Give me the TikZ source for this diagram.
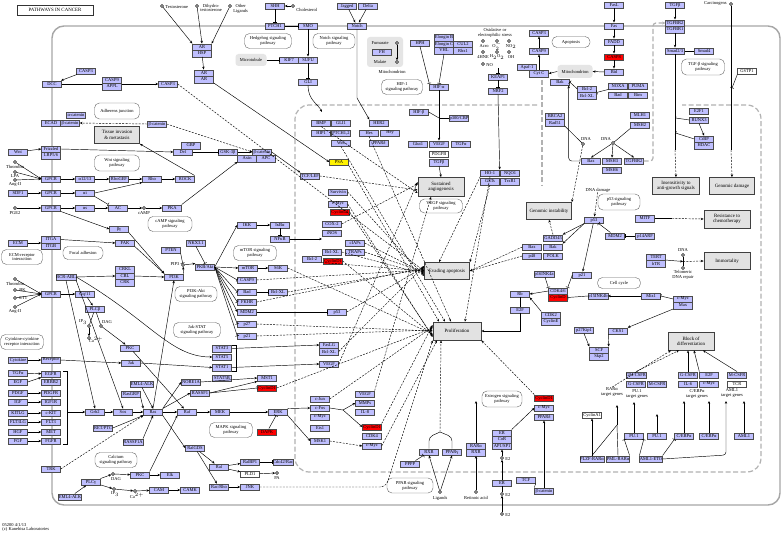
\documentclass[tikz,border=0pt]{standalone}
\usepackage{fontspec}
\setmainfont{Liberation Serif}
\usetikzlibrary{arrows.meta}
\definecolor{kblue}{RGB}{191,191,255}
\definecolor{kred}{RGB}{255,0,0}
\definecolor{kout}{RGB}{226,226,226}
\newcommand\kf{\fontsize{4.5}{4.9}\selectfont}
\newcommand\kfo{\fontsize{4.9}{5.3}\selectfont}
\tikzset{
  gn/.style={draw=black!70, fill=kblue, minimum width=19pt, minimum height=6.5pt, inner sep=0.2pt, line width=0.4pt, font=\kf},
  gr/.style={gn, fill=kred},
  gw/.style={gn, fill=white},
  gy/.style={gn, fill=yellow},
  ob/.style={draw=black!75, fill=kout, line width=0.8pt, minimum width=45pt, minimum height=17pt, inner sep=0.5pt, align=center, font=\kfo},
  pw/.style={draw=black!60, fill=white, rounded corners=5pt, minimum width=42pt, minimum height=15pt, inner sep=0.5pt, align=center, font=\kf, line width=0.4pt},
  gbx/.style={fill=black!10, rounded corners=3pt, inner sep=0pt},
  lbl/.style={inner sep=0.2pt, align=center, font=\kf},
  cir/.style={circle, draw=black, fill=white, inner sep=0pt, minimum size=3pt, line width=0.45pt},
  ar/.style={-{Stealth[length=2.8pt,width=2.4pt]}, line width=0.45pt},
  inh/.style={-{Bar[width=4pt]}, line width=0.45pt},
  da/.style={ar, dash pattern=on 2pt off 1.3pt},
  ln/.style={line width=0.45pt},
  gd/.style={draw=black!30, line width=1.2pt, dash pattern=on 5pt off 2.5pt},
}
\begin{document}
\begin{tikzpicture}[x=1pt,y=-1pt]
\useasboundingbox (0,0) rectangle (784,534);
\fill[white] (0,0) rectangle (784,534);
% frames
\draw[black!35, line width=1.4pt, rounded corners=12pt] (52,26) rectangle (780,505);
\draw[gd, rounded corners=14pt] (537,105) -- (295,105) -- (295,472) -- (761,472) -- (761,105) -- (682,105);
\coordinate (gx1) at (542,80); \coordinate (gx2) at (542,186);
\draw[gd] (gx1) -- (gx2);
\node[draw=black!80, minimum width=76pt, minimum height=9.5pt, inner sep=0.5pt, font=\kfo] (title) at (55,10) {PATHWAYS IN CANCER};
\node[lbl, anchor=west, align=left] (copy) at (2,527.5) {05200 4/1/13\\(c) Kanehisa Laboratories};
% gray regions
\node[gbx, minimum width=31pt, minimum height=12pt, font=\kf] (microt) at (251,60) {Microtubule};
\node[gbx, minimum width=36pt, minimum height=30pt] (mito1) at (385,52) {};
\node[lbl] (mitotxt1) at (392,72) {Mitochondrion};
\node[gbx, minimum width=35pt, minimum height=13pt, font=\kf] (mito2) at (575,71.5) {Mitochondrion};
% ---------- left top
\node[gn] (casp3a) at (86,71) {CASP3};
\node[gn] (dcc) at (52,84) {DCC};
\node[gn] (casp9a) at (112,80) {CASP9};
\node[gn] (appl) at (112,86.5) {APPL};
\node[gn] (casp3b) at (168,84) {CASP3};
\node[pw, minimum width=45pt, minimum height=16pt] (adh) at (117,111) {Adherens junction};
\node[gn] (acat) at (76,115) {α-catenin};
\node[gn] (ecad) at (51,123) {ECAD};
\node[gn] (bcat1) at (70,123) {β-catenin};
\node[gn] (bcat2) at (157,124) {β-catenin};
\node[ob] (tissue) at (117,135) {Tissue invasion\\\& metastasis};
\node[gn] (wnt1) at (18,152) {Wnt};
\node[gn] (fzd) at (51,149) {Frizzled};
\node[gn] (lrp) at (51,155.5) {LRP5/6};
\node[gn] (dvl) at (183,152) {Dvl};
\node[gn] (gbp) at (191,145.5) {GBP};
\node[pw, minimum width=45pt, minimum height=16pt] (wntpw) at (117,163) {Wnt signaling\\pathway};
\node[cir] (thr1) at (15,162) {}; \node[lbl] (thr1l) at (15,166.5) {Thrombin};
\node[cir] (lpa) at (15,172) {}; \node[lbl] (lpal) at (15,176) {LPA};
\node[cir] (ang1) at (15,180) {}; \node[lbl] (ang1l) at (15,184.5) {Ang-II};
\node[gn] (gpcr1) at (51,179) {GPCR};
\node[gn] (a1213) at (85,179) {α12/13};
\node[gn] (rhogef) at (119,179) {RhoGEF};
\node[gn] (rho) at (152,179) {Rho};
\node[gn] (rock) at (185,179) {ROCK};
\node[gn] (sdf1) at (18,193) {SDF1};
\node[gn] (gpcr2) at (51,193) {GPCR};
\node[gn] (gai) at (85,193) {αi};
\node[cir] (pge2) at (15,208) {}; \node[lbl] (pge2l) at (15,213) {PGE2};
\node[gn] (gpcr3) at (51,208) {GPCR};
\node[gn] (gas) at (85,208) {αs};
\node[gn] (ac) at (118,208) {AC};
\node[cir] (camp) at (144,208) {}; \node[lbl] (campl) at (144,213) {cAMP};
\node[gn] (pka) at (172,208) {PKA};
\node[pw, minimum width=44pt] (camppw) at (170,224) {cAMP signaling\\pathway};
\node[gn] (bg) at (119,229) {βγ};
\node[gn] (ecm) at (18,243) {ECM};
\node[gn] (itga) at (51,239.5) {ITGA};
\node[gn] (itgb) at (51,246) {ITGB};
\node[gn] (fak) at (125,243) {FAK};
\node[pw, minimum width=41pt] (ecmpw) at (22,257) {ECM-receptor\\interaction};
\node[pw, minimum width=40pt, minimum height=13pt] (focal) at (83,253) {Focal adhesion};
\node[gn] (pten) at (171,250) {PTEN};
\node[gn] (nkx) at (196,243) {NKX3.1};
\node[cir] (pip3) at (183,265) {}; \node[lbl] (pip3l) at (175,264) {PIP3};
\node[gn] (crkl) at (125,269.5) {CRKL};
\node[gn] (cbl) at (125,276) {CBL};
\node[gn] (crk) at (125,282.5) {CRK};
\node[gn] (bcrabl) at (66,277) {BCR-ABL};
\node[gn] (pi3k) at (174,277) {PI3K};
\node[pw] (pi3kpw) at (196,294) {PI3K-Akt\\signaling pathway};
\node[cir] (thr2) at (15,279) {}; \node[lbl] (thr2l) at (15,284) {Thrombin};
\node[cir] (bk) at (15,290) {}; \node[lbl, anchor=west] (bkl) at (19,290) {BK};
\node[cir] (et1) at (15,298) {}; \node[lbl, anchor=west] (et1l) at (19,298) {ET1};
\node[cir] (ang2) at (15,307) {}; \node[lbl] (ang2l) at (15,312) {Ang-II};
\node[gn] (gpcr4) at (51,294) {GPCR};
\node[gn] (gq) at (85,294) {Gq/11};
\node[gn] (plcb) at (95,309) {PLCβ};
\node[cir] (ip3a) at (89,326) {}; \node[lbl] (ip3al) at (83,322) {IP$_3$};
\node[cir] (daga) at (101,326) {}; \node[lbl] (dagal) at (107,322) {DAG};
\node[cir] (ca1) at (89,338) {}; \node[lbl] (ca1l) at (96,340) {Ca$^{2+}$};
\node[gn] (pkc1) at (130,348) {PKC};
\node[pw, minimum width=43pt] (cytpw) at (22,342) {Cytokine-cytokine\\receptor interaction};
\node[pw, minimum width=47pt] (jakpw) at (197,330) {Jak-STAT\\signaling pathway};
% ---------- left bottom
\node[gn] (cytok) at (18,360) {Cytokine};
\node[gn] (recep) at (51,360) {Receptor};
\node[gn] (jak) at (131,363) {Jak};
\node[gn] (tgfa1) at (18,373) {TGFα};
\node[gn] (egf) at (18,382) {EGF};
\node[gn] (egfr) at (51,374) {EGFR};
\node[gn] (erbb2) at (51,382) {ERBB2};
\node[gn] (pdgf) at (18,393) {PDGF}; \node[gn] (pdgfr) at (51,393) {PDGFR};
\node[gn] (igf) at (18,402) {IGF}; \node[gn] (igf1r) at (51,402) {IGF1R};
\node[gn] (kitlg) at (18,413) {KITLG}; \node[gn] (ckit) at (51,413) {c-KIT};
\node[gn] (flt3lg) at (18,422) {FLT3LG}; \node[gn] (flt3) at (51,422) {FLT3};
\node[gn] (hgf) at (18,432) {HGF}; \node[gn] (met) at (51,432) {MET};
\node[gn] (fgf) at (18,441) {FGF}; \node[gn] (fgfr) at (51,441) {FGFR};
\node[gn] (eml4a) at (142,384) {EML4-ALK};
\node[gn] (rasgrp) at (131,394) {RasGRP};
\node[gn] (grb2) at (95,412) {Grb2};
\node[gn] (sos) at (123,412) {Sos};
\node[gn] (ras) at (153,412) {Ras};
\node[gn] (raf) at (187,412) {Raf};
\node[gn] (retptc) at (103,428) {RET/PTC};
\node[gn] (rassf1a) at (133,442) {RASSF1A};
\node[pw] (calpw) at (116,460) {Calcium\\signaling pathway};
\node[gn] (trk) at (51,469) {TRK};
\node[gn] (plcg) at (91,482) {PLCγ};
\node[cir] (dagb) at (113,474) {}; \node[lbl] (dagbl) at (116,479) {DAG};
\node[cir] (ip3b) at (114,489) {}; \node[lbl] (ip3bl) at (115,494) {IP$_3$};
\node[cir] (ca2) at (135,491) {}; \node[lbl] (ca2l) at (137,496) {Ca$^{2+}$};
\node[gn] (pkc2) at (140,475) {PKC};
\node[gn] (elk) at (170,475) {Elk};
\node[gn] (cam) at (159,490) {CAM};
\node[gn] (camk) at (190,490) {CAMK};
\node[gn] (eml4b) at (70,497) {EML4-ALK};
% ---------- centre left
\node[gn] (nore) at (191,382) {NORE1A};
\node[gn] (rassf) at (200,393) {RASSF1};
\node[gn] (ralgds) at (195,448) {RalGDS};
\node[gn] (stat3) at (222,348.5) {STAT3};
\node[gn] (stat5) at (222,357) {STAT5};
\node[gn] (stat1) at (222,367.5) {STAT1};
\node[gn] (stat5b) at (222,378) {STAT5B};
\node[gn] (mst1) at (267,378) {MST1};
\node[gr] (ccnd1c) at (267,388) {CyclinD1};
\node[gn] (mek) at (220,412) {MEK};
\node[gn] (erk) at (278,412) {ERK};
\node[gr] (dapk) at (267,432) {DAPK};
\node[pw, minimum width=43pt] (mapkpw) at (231,430) {MAPK signaling\\pathway};
\node[gn] (ral) at (219,467) {Ral};
\node[gn] (ralbp1) at (250,462) {RalBP1};
\node[gn] (cdc42) at (283,462) {Cdc42/Rac};
\node[gw] (pld1) at (250,474) {PLD1};
\node[cir] (pa) at (277,473) {}; \node[lbl] (pal) at (277,478) {PA};
\node[gn] (racrho) at (219,487) {Rac/Rho};
\node[gn] (jnk) at (250,487) {JNK};
% ---------- centre
\node[gn] (gsk) at (228,152) {GSK-3β};
\node[gn] (bcat3) at (262,152) {β-catenin};
\node[gn] (axin) at (247,158.5) {Axin};
\node[gn] (apc) at (266,158.5) {APC};
\node[gn] (tcflef) at (310,176) {TCF/LEF};
\node[gy] (psa) at (339,162) {PSA};
\node[gn] (survivin) at (338,192) {Survivin};
\node[gn] (cmyc1) at (338,204) {c-Myc};
\node[gr] (ccnd1a) at (340,212) {CyclinD1};
\node[gn] (ikk) at (247,225) {IKK};
\node[gn] (ikba) at (280,225) {IκBα};
\node[gn] (nfkb) at (280,239) {NFκB};
\node[gn] (cox2) at (332,224) {COX-2};
\node[gn] (inos) at (332,233) {iNOS};
\node[pw, minimum width=43pt] (mtorpw) at (255,253) {mTOR signaling\\pathway};
\node[gn] (ciaps) at (355,243) {cIAPs};
\node[gn] (bclxl1) at (332,252) {Bcl-XL};
\node[gn] (traps) at (355,252) {TRAPs};
\node[gn] (bcl2a) at (312,259) {Bcl-2};
\node[gr] (ccnd1b) at (333,261) {CyclinD1};
\node[gn] (akt) at (205,267) {PKB/Akt};
\node[gn] (mtor) at (248,268) {mTOR};
\node[gn] (s6k) at (278,268) {S6K};
\node[gn] (casp9b) at (247,280) {CASP9};
\node[gn] (bad1) at (247,292) {Bad};
\node[gn] (bclxl2) at (278,292) {Bcl-XL};
\node[gn] (fkhr) at (247,302) {FKHR};
\node[gn] (mdm2a) at (247,312) {MDM2};
\node[gn] (p53a) at (337,312) {p53};
\node[gn] (p27a) at (247,324) {p27};
\node[gn] (p21a) at (247,336) {p21};
\node[gn] (faslg) at (329,345) {FasLG};
\node[gn] (bclxl3) at (329,351.5) {Bcl-XL};
\node[gn] (vegf1) at (329,364) {VEGF};
\node[gn] (cjun) at (320,399) {c-Jun};
\node[gn] (cfos) at (320,408) {c-Fos};
\node[gn] (cmyc2) at (320,417) {c-Myc};
\node[gn] (ets1) at (320,428) {Ets1};
\node[gn] (msk1) at (320,441) {MSK1};
\node[gn] (vegf2) at (365,394) {VEGF};
\node[gn] (mmps) at (365,403) {MMPs};
\node[gn] (il8) at (365,412) {IL-8};
\node[gr] (ccnd1d) at (372,427) {CyclinD1};
\node[gn] (cdk4) at (372,436) {CDK4};
\node[gn] (cmyc3) at (372,446) {c-Myc};
% ---------- top centre
\node[cir] (testo) at (162,6) {}; \node[lbl, anchor=west] (testol) at (165,7) {Testosterone};
\node[cir] (dht) at (197,6) {}; \node[lbl, anchor=west] (dhtl) at (200,8) {Dihydro-\\testosterone};
\node[cir] (othl) at (230,6) {}; \node[lbl, anchor=west] (othll) at (233,8.5) {Other\\Ligands};
\node[gn] (ar1) at (202,47) {AR};
\node[gn] (hsp) at (202,53.5) {HSP};
\node[gn] (ar2) at (204,73) {AR};
\node[gn] (ar3) at (204,79.5) {AR};
\node[gn] (shh) at (275,6) {SHH};
\node[cir] (chol) at (293,6) {}; \node[lbl, anchor=west] (choll) at (296,10) {Cholesterol};
\node[gn] (ptch1) at (275,26) {PTCH1};
\node[gn] (smo) at (308,26) {SMO};
\node[gn] (jag) at (347,6) {Jagged};
\node[gn] (delta) at (368,6) {Delta};
\node[gn] (notch) at (357,26) {Notch};
\node[pw, minimum width=47pt] (hhpw) at (268,41) {Hedgehog signaling\\pathway};
\node[pw] (notchpw) at (334,41) {Notch signaling\\pathway};
\node[gn] (kif7) at (289,60) {KIF7};
\node[gn] (sufu) at (308,60) {SUFU};
\node[gn] (gli) at (308,82) {GLI};
\node[gn] (bmp) at (321,123) {BMP};
\node[gn] (gli1) at (341,123) {GLI1};
\node[gn] (hip1) at (321,133) {HIP1};
\node[gn] (ptch12) at (341,133) {PTCH1,2};
\node[gn] (wnt2) at (341,143) {Wnt};
\node[gn] (her2) at (379,123) {HER2};
\node[gn] (hes) at (369,133) {Hes};
\node[gn] (hey) at (390,133) {Hey};
\node[gn] (ppard1) at (379,143) {PPARδ};
\node[lbl] (fum) at (380,43) {Fumarate};
\node[gn] (fh) at (382,52) {FH};
\node[lbl] (mal) at (380,62) {Malate};
\node[cir] (fumc) at (397,43) {};
\node[cir] (malc) at (397,62) {};
\node[pw, minimum width=41pt] (hif1pw) at (402,87) {HIF-1\\signaling pathway};
\node[gn] (hph) at (420,43) {HPH};
\node[gn] (elob) at (444,37.5) {Elongin B};
\node[gn] (eloc) at (444,44) {Elongin C};
\node[gn] (vhl) at (444,50.5) {VHL};
\node[gn] (cul2) at (463,44) {CUL2};
\node[gn] (rbx1) at (463,50.5) {Rbx1};
\node[gn] (hifa) at (439,87) {HIF-α};
\node[gn] (hifb) at (419,112) {HIF-β};
\node[gn] (p300) at (459,118) {p300/CBP};
\node[gn] (glut1) at (418,144) {Glut1};
\node[gn] (vegf0) at (439,144) {VEGF};
\node[gn] (tgfa0) at (461,144) {TGFα};
\node[gw] (pdgfb) at (439,154) {PDGFB};
\node[gn] (tgfb0) at (439,162.5) {TGFβ};
\node[ob, minimum width=46pt, minimum height=19pt] (angio) at (441,187) {Sustained\\angiogenesis};
\node[pw, minimum width=43pt, minimum height=14pt] (vegfpw) at (441,206) {VEGF signaling\\pathway};
\node[lbl] (stress) at (495,33) {Oxidative or\\electrophilic stress};
\node[cir] (acro) at (483,41) {}; \node[lbl] (acrol) at (484,46.5) {Acro};
\node[cir] (o2) at (497,41) {}; \node[lbl] (o2l) at (497,46.5) {O$_2^-$};
\node[cir] (no2) at (509,41) {}; \node[lbl] (no2l) at (511,46.5) {NO$_2$};
\node[cir] (hne) at (483,52) {}; \node[lbl] (hnel) at (483,57) {4HNE};
\node[cir] (h2o2) at (497,52) {}; \node[lbl] (h2o2l) at (497,57) {H$_2$O$_2$};
\node[cir] (oh) at (509,52) {}; \node[lbl] (ohl) at (511,57) {OH};
\node[cir] (no) at (483,64) {}; \node[lbl, anchor=west] (nol) at (486,65) {NO};
\node[gn] (keap1) at (498,77) {KEAP1};
\node[gn] (nrf2) at (498,91) {NRF2};
\node[gn] (ho1) at (490,173) {HO-1};
\node[gn] (nqo1) at (510,173) {NQO1};
\node[gn] (gsts) at (490,181.5) {GSTs};
\node[gn] (trxr1) at (510,181.5) {TrxR1};
\node[gn] (casp3c) at (539,33) {CASP3};
\node[gn] (casp9c) at (539,51) {CASP9};
\node[pw, minimum width=38pt, minimum height=11pt] (apopw) at (571,42) {Apoptosis};
\node[gn] (apaf) at (527,67) {Apaf-1};
\node[gn] (cytc) at (539,73.5) {Cyt C};
\node[gn] (bak1) at (560,82) {Bak};
\node[gn] (bcl2b) at (587,89) {Bcl-2};
\node[gn] (bclxl4) at (587,95.5) {Bcl-XL};
\node[gn] (noxa) at (618,86) {NOXA};
\node[gn] (puma) at (638,86) {PUMA};
\node[gn] (bad2) at (618,95) {Bad};
\node[gn] (bim) at (638,95) {Bim};
\node[gn] (fasl) at (614,5) {FasL};
\node[gn] (fas) at (614,26) {Fas};
\node[gn] (fadd) at (614,42) {FADD};
\node[gr] (casp8) at (614,57) {CASP8};
\node[gn] (bid) at (614,72) {Bid};
\node[gn] (tgfb) at (675,5) {TGFβ};
\node[gn] (tgfbr2) at (675,23) {TGFBR2};
\node[gn] (tgfbr1) at (675,29.5) {TGFBR1};
\node[gn] (smad23) at (675,51) {Smad2/3};
\node[gn] (smad4) at (704,51) {Smad4};
\node[pw, minimum width=43pt, minimum height=16pt] (tgfpw) at (703,67) {TGF-β signaling\\pathway};
\node[cir] (carc) at (731,4) {}; \node[lbl, anchor=east] (carcl) at (727,4) {Carcinogens};
\node[gw] (gstp1) at (747,71) {GSTP1};
\node[gn] (brca2) at (555,116) {BRCA2};
\node[gn] (rad51) at (555,122.5) {Rad51};
\node[cir] (dna1) at (583,144) {}; \node[lbl] (dna1l) at (586,139) {DNA};
\node[gn] (mlh1) at (640,115) {MLH1};
\node[gn] (msh2) at (640,125) {MSH2};
\node[cir] (dna2) at (613,143) {}; \node[lbl] (dna2l) at (606,139) {DNA};
\node[gn] (bax1) at (591,161) {Bax};
\node[gn] (msh3) at (612,161) {MSH3};
\node[gn] (tgfbr2b) at (634,161) {TGFBR2};
\node[gn] (msh6) at (612,170) {MSH6};
\node[gn] (e2f1) at (699,111) {E2F1};
\node[gn] (e2fx) at (699,120) {RUNX3};
\node[gn] (ctbp) at (704,139) {CtBP};
\node[gn] (hdac) at (704,145.5) {HDAC};
\node[ob, minimum width=47pt] (insens) at (676,186) {Insensitivity to\\anti-growth signals};
\node[ob] (gdamage) at (732,186) {Genomic damage};
\node[ob] (ginst) at (549,211) {Genomic instability};
\node[lbl] (dnadmg) at (598,190) {DNA damage};
\node[pw, minimum height=16pt] (p53pw) at (619,202) {p53 signaling\\pathway};
\node[gn] (p53b) at (594,220) {p53};
\node[gn] (mitf) at (645,218.5) {MITF};
\node[ob, minimum width=46pt, minimum height=18pt] (chemo) at (727,219) {Resistance to\\chemotherapy};
\node[gn] (mdm2b) at (615,236) {MDM2};
\node[gn] (p14) at (645,236) {p14ARF};
\node[gn] (gadd) at (553,238) {GADD45};
\node[gn] (bax2) at (532,247) {Bax};
\node[gn] (bak2) at (553,247) {Bak};
\node[gn] (p48) at (532,256) {p48};
\node[gn] (polk) at (553,256) {POLK};
\node[ob] (evading) at (447,271) {Evading apoptosis};
\node[gn] (tert) at (656,257) {TERT};
\node[gn] (htr) at (656,263.5) {hTR};
\node[cir] (dna3) at (683,255) {}; \node[lbl] (dna3l) at (683,250.5) {DNA};
\node[cir] (telo) at (683,268) {}; \node[lbl] (telol) at (683,274.5) {Telomeric\\DNA repair};
\node[ob, minimum width=46pt] (immort) at (727,261) {Immortality};
\node[pw, minimum width=43pt, minimum height=11pt] (cellcyc) at (619,283) {Cell cycle};
\node[gn] (p16) at (544,274) {p16INK4a};
\node[gn] (p21b) at (582,275) {p21};
\node[gn] (rb) at (520,294) {Rb};
\node[gn] (e2f) at (520,310) {E2F};
\node[gn] (cdk46) at (558,291) {CDK4/6};
\node[gr] (ccnd) at (558,297.5) {CyclinD};
\node[gn] (p15) at (598,296) {p15INK4b};
\node[gn] (miz1) at (651,296) {Miz1};
\node[gn] (cmyc4) at (683,299) {c-Myc};
\node[gn] (max) at (683,305.5) {Max};
\node[gn] (cdk2) at (551,315) {CDK2};
\node[gn] (cyce) at (551,321.5) {CyclinE};
\node[gn] (p27k) at (584,330) {p27Kip1};
\node[gn] (cks1) at (618,331) {CKS1};
\node[gn] (scf) at (599,350) {SCF};
\node[gn] (skp2) at (599,356.5) {Skp2};
\node[ob, minimum width=48pt, minimum height=18pt] (prolif) at (457,331) {Proliferation};
\node[ob, minimum width=46pt, minimum height=18pt] (block) at (691,341) {Block of\\differentiation};
% ---------- bottom right
\node[pw, minimum width=40pt, minimum height=16pt] (estpw) at (502,399) {Estrogen signaling\\pathway};
\node[gr] (ccnd1e) at (544,398) {CyclinD1};
\node[gn] (cmyc5) at (544,408) {c-Myc};
\node[gn] (ppard) at (544,417) {PPARδ};
\node[gn] (rxr1) at (429,452) {RXR};
\node[gn] (pparg) at (452,452) {PPARγ};
\node[gn] (pppp) at (410,464) {PPPP};
\node[pw, minimum width=46pt] (pparpw) at (410,485.5) {PPAR signaling\\pathway};
\node[cir] (lig) at (440,492) {}; \node[lbl] (ligl) at (440,498) {Ligands};
\node[gn] (rara) at (476,446) {RARα};
\node[gn] (rxr2) at (476,452.5) {RXR};
\node[cir] (retac) at (476,492) {}; \node[lbl] (retacl) at (476,498) {Retinoic acid};
\node[gn] (er1) at (502,433) {ER};
\node[gn] (cor) at (502,439.5) {CoR};
\node[gn] (ap1) at (502,446) {AP1/SP1};
\node[cir] (e2a) at (502,458) {}; \node[lbl, anchor=west] (e2al) at (505,459) {E2};
\node[gn] (er2) at (502,483) {ER};
\node[cir] (e2b) at (502,494) {}; \node[lbl, anchor=west] (e2bl) at (505,495) {E2};
\node[cir] (e2c) at (502,514) {}; \node[lbl, anchor=west] (e2cl) at (505,515) {E2};
\node[gn] (tcf) at (526,480) {TCF};
\node[gn] (bcat4) at (544,491) {β-catenin};
\node[gw] (cyca1) at (592,415) {CyclinA1};
\node[gn] (plzf) at (592,459) {PLZF-RARα};
\node[gn] (pml) at (618,459) {PML-RARα};
\node[gn] (aml1eto) at (651,459) {AML1-ETO};
\node[gn] (gmcsfr) at (636,375) {GM-CSFR};
\node[gn] (gcsfr1) at (636,384) {G-CSFR};
\node[gn] (mcsfr1) at (657,384) {M-CSFR};
\node[gn] (gcsfr2) at (688,375) {G-CSFR};
\node[gn] (il6) at (688,384) {IL-6};
\node[gn] (e2f2) at (709,375) {E2F};
\node[gn] (cmyc6) at (709,384) {c-Myc};
\node[gn] (mcsfr2) at (737,375) {M-CSFR};
\node[gw] (tcr) at (737,384) {TCR};
\node[lbl] (rart) at (612,392) {RARα\\target genes};
\node[lbl] (pu1t) at (637,394) {PU.1\\target genes};
\node[lbl] (cebt) at (697,394) {C/EBPα\\target genes};
\node[lbl] (aml1t) at (732,393) {AML1\\target genes};
\node[gn] (pu1a) at (634,436) {PU.1};
\node[gn] (pu1b) at (657,436) {PU.1};
\node[gn] (cebpa1) at (684,436) {C/EBPα};
\node[gn] (cebpa2) at (709,436) {C/EBPα};
\node[gn] (aml1) at (744,436) {AML1};
% ================= connectors
\draw[ar] (casp3a) -- (dcc);
\draw[ln] (dcc.east) -- (casp9a.west |- dcc.east);
\draw[ar] (casp9a.east |- casp3b.west) -- (casp3b.west);
\draw[da] (casp3b.east) -- (evading.west);
\draw[da] (bcat2.west) -- (bcat1.east);
\draw[da] (bcat2.east) -- (bcat3.west);
\draw[ar] (wnt1) -- (fzd.west);
\draw[ar] (fzd.east) -- (dvl.west);
\draw[inh] (dvl.east) -- (gsk.west);
\draw[ar] (gsk.east) -- (bcat3.west);
\draw[ar] (bcat3.east) -- (tcflef.north west);
\draw[ar] (pka.north east) -- (axin.south west);
\draw[ar] (rock.north east) -- (tissue.south east);
\draw[ar] (thr1) -- (gpcr1.west);
\draw[ar] (lpa) -- (gpcr1.west);
\draw[ar] (ang1) -- (gpcr1.west);
\draw[ar] (sdf1) -- (gpcr2);
\draw[ar] (pge2) -- (gpcr3);
\draw[ar] (gpcr1) -- (a1213);
\draw[ar] (a1213) -- (rhogef);
\draw[ar] (rhogef) -- (rho);
\draw[ar] (rho) -- (rock);
\draw[ar] (gpcr2) -- (gai);
\draw[ar] (gai.east) -- (rho.south west);
\draw[inh] (gai.south east) -- (ac.north west);
\draw[ar] (gpcr3) -- (gas);
\draw[ar] (gas) -- (ac);
\draw[ar] (ac) -- (camp);
\draw[ar] (camp) -- (pka);
\draw[ar] (gpcr3.south east) -- (bg.west);
\draw[ar] (bg.south east) -- (pi3k.north west);
\draw[ar] (ecm) -- (ecm -| itga.west);
\draw[ar] (itga.east) -- (fak.west);
\draw[ar] (fak.south east) -- (pi3k.north west);
\draw[inh] (pten.south east) -- (pip3);
\draw[ar] (pi3k.north east) -- (pip3);
\draw[ar] (pip3) -- (akt.north west);
\draw[inh] (nkx.south) -- (akt.north);
\draw[ar] (bcrabl.east) -- (cbl.west);
\draw[ar] (cbl.east) -- (pi3k.west);
\draw[ar] (bcrabl.south) -- (grb2.north);
\draw[ar] (bcrabl.south east) -- (sos.north);
\draw[ar] (bcrabl.east) .. controls (150,320) and (170,357) .. (stat5.west);
\draw[ar] (thr2) -- (gpcr4.west);
\draw[ar] (bk) -- (gpcr4.west);
\draw[ar] (et1) -- (gpcr4.west);
\draw[ar] (ang2) -- (gpcr4.west);
\draw[ar] (gpcr4) -- (gq);
\draw[ar] (gq) -- (plcb);
\draw[ln] (plcb) -- (ip3a);
\draw[ln] (plcb) -- (daga);
\draw[ar] (ip3a) -- (ca1);
\draw[ar] (daga) -- (pkc1);
\draw[ar] (pkc1) -- (raf);
\draw[ar] (akt.east) -- (ikk.west);
\draw[ar] (akt.east) -- (mtor.west);
\draw[inh] (akt.east) -- (casp9b.west);
\draw[inh] (akt.east) -- (bad1.west);
\draw[inh] (akt.east) -- (fkhr.west);
\draw[ar] (akt.east) -- (mdm2a.west);
\draw[inh] (akt.east) -- (p27a.west);
\draw[inh] (akt.east) -- (p21a.west);
\draw[ar] (ikk) -- (ikba);
\draw[inh] (ikba) -- (nfkb);
\coordinate (nfkbt) at (322,239);
\draw[ar] (nfkb.east) -- (nfkbt);
\draw[ar] (mtor) -- (s6k);
\draw[inh] (bad1) -- (bclxl2);
\draw[inh] (mdm2a) -- (p53a);
\draw[ar] (cytok) -- (recep);
\draw[ar] (recep.east) -- (jak.west);
\draw[ar] (jak.east) -- (stat1.west);
\draw[ar] (stat3.east) -- (faslg.west);
\draw[ar] (stat1.east) -- (vegf1.west);
\draw[ln] (232,345.25) -- (236,345.25) -- (236,370.75) -- (232,370.75);
\draw[ar] (tgfa1) -- (egfr);
\draw[ar] (egf.east) -- (egfr.south west);
\draw[ar] (pdgf) -- (pdgfr);
\draw[ar] (igf) -- (igf1r);
\draw[ar] (kitlg) -- (ckit);
\draw[ar] (flt3lg) -- (flt3);
\draw[ar] (hgf) -- (met);
\draw[ar] (fgf) -- (fgfr);
\draw[ln] (63,370.75) -- (67,370.75) -- (67,444.25) -- (63,444.25);
\coordinate (brk) at (67,412);
\draw[ar] (brk) -- (grb2.west);
\draw[ar] (grb2) -- (sos);
\draw[ar] (sos) -- (ras);
\draw[ar] (ras) -- (raf);
\draw[ar] (raf) -- (mek);
\draw[ar] (mek) -- (erk);
\draw[ar] (erk.north east) -- (cfos.west);
\draw[ar] (erk.south east) -- (msk1.west);
\draw[da] (msk1.east) -- (cmyc3.west);
\coordinate (apj) at (343,410);
\draw[ln] (cfos.east) -- (apj);
\draw[ar] (apj) -- (mmps.west);
\draw[ar] (apj) -- (ccnd1d.west);
\draw[inh] (dapk) -- (erk);
\draw[ar] (ras.south east) -- (ralgds.west);
\draw[ar] (ralgds) -- (ral);
\draw[ar] (ral) -- (ralbp1);
\draw[inh] (ralbp1) -- (cdc42);
\draw[ar] (ral) -- (pld1);
\draw[ar] (pld1) -- (pa);
\draw[ar] (ralgds) -- (racrho);
\draw[ar] (racrho) -- (jnk);
\draw[da, rounded corners=6pt] (jnk.east) -- (386,487) -- (prolif.south west);
\draw[ar] (ras.north east) -- (nore.west);
\draw[ar] (ras.north east) -- (rassf.west);
\draw[ar] (nore.east) -- (mst1.west);
\draw[ar] (rassf.east) -- (mst1.south west);
\draw[inh] (rassf.east) -- (ccnd1c.west);
\draw[ar] (ras.north) -- (pi3k.south);
\draw[da] (trk.east) -- (ras.south west);
\draw[ar] (plcg) -- (dagb);
\draw[ar] (plcg) -- (ip3b);
\draw[ar] (dagb) -- (pkc2);
\draw[ar] (ip3b) -- (ca2);
\draw[ar] (ca2) -- (cam);
\draw[ar] (cam) -- (camk);
\draw[ar] (pkc2) -- (elk);
\draw[ar] (pkc2.north east) -- (raf.south west);
\draw[ar] (eml4b) -- (plcg);
\draw[ar] (retptc.east) -- (ras.south west);
\draw[ar] (rassf1a.north east) -- (ras.south);
\draw[ar] (eml4a.south) -- (ras.north);
\draw[ar] (rasgrp.south east) -- (ras.north west);
% top
\draw[ar] (testo) -- (ar1.north west);
\draw[ar] (dht) -- (ar1.north);
\draw[ar] (othl) -- (ar1.north east);
\draw[ar] (hsp) -- (ar2);
\draw[ar] (ar3.south east) -- (psa.west);
\draw[ar] (chol) -- (shh);
\draw[inh] (shh) -- (ptch1);
\draw[inh] (ptch1) -- (smo);
\draw[ar] (smo) -- (sufu);
\draw[inh] (microt) -- (kif7);
\draw[inh] (sufu) -- (gli);
\coordinate (glit) at (322,112);
\draw[ar] (gli.south) .. controls (308,100) and (318,104) .. (glit);
\draw[ar] (jag) -- (notch);
\draw[ar] (delta) -- (notch);
\draw[ar] (notch.south) -- (357,98) -- (her2.north west);
\draw[ar] (fumc) -- (malc);
\draw[inh] (hph.south) -- (hifa.north west);
\draw[inh] (vhl.south) -- (hifa.north);
\coordinate (hifj) at (439,118);
\draw[ln] (hifa.south) -- (hifj);
\draw[ln] (hifb.east) -- (hifj);
\draw[ln] (p300.west) -- (hifj);
\draw[ar] (hifj) -- (vegf0.north);
\draw[ar] (tgfb0.south) -- (angio.north);
\coordinate (strs) at (498,68);
\draw[inh] (strs) -- (keap1.north);
\draw[inh] (keap1) -- (nrf2);
\draw[ar] (nrf2.south) -- (ho1.north east);
\draw[da] (gsts.south) -- (evading.north east);
\draw[ar] (cytc.north) -- (casp9c.south);
\draw[ar] (casp9c) -- (casp3c);
\draw[ar] (mito2.west) -- (cytc.east);
\draw[ar] (fasl) -- (fas);
\draw[ar] (fas) -- (fadd);
\draw[ar] (fadd) -- (casp8);
\draw[ar] (casp8) -- (bid);
\draw[ar] (bid.west) -- (mito2.east);
\draw[inh] (bcl2b.west) -- (bak1.east);
\draw[inh] (noxa.south west) -- (bcl2b.south east);
\draw[ar, rounded corners=3pt] (bax1.west) -| ([xshift=-1pt]bak1.south east);
\draw[ar] (tgfb) -- (tgfbr2);
\draw[ar] (tgfbr1) -- (smad23);
\draw[ln] (smad23) -- (smad4);
\coordinate (smj) at (675,150);
\coordinate (sm1) at (675.5,118);
\coordinate (sm2) at (675.5,133);
\draw[ln] (smad23.south) -- (smj);
\draw[da] (smj) -- (insens.north);
\draw[inh] (e2fx.west) -- (sm1);
\draw[inh] (ctbp.west) -- (sm2);
\draw[ar] (e2fx.south) -- (ctbp.north);
\coordinate (cj) at (731,150);
\draw[ln] (carc) -- (cj);
\draw[da] (cj) -- (gdamage.north);
\coordinate (gsj) at (732,88);
\draw[inh] (gstp1.south west) -- (gsj);
\draw[gd, -{Stealth[length=3pt,width=3pt]}, rounded corners=3pt] (tgfbr2b.east) -| (653,23) -- (tgfbr2.west);
\draw[ln] (msh2.south west) -- (dna2);
\draw[ar] (dna2) -- (bax1.north);
\draw[ar] (dna2) -- (msh3.north);
\draw[ar] (dna2) -- (tgfbr2b.north);
\draw[ln] (rad51.south east) -- (dna1);
\draw[da] (dna1) -- (ginst.north east);
\draw[da] (dnadmg) -- (p53b);
\draw[ar] (p53b) -- (p21b);
\draw[ar] (p53b.south west) -- (gadd.north east);
\draw[ar] (p53b.south west) -- (bak2.north east);
\draw[inh] (mdm2b) -- (p53b);
\draw[inh] (p14) -- (mdm2b);
\draw[da] (gadd.north) -- (ginst.south);
\draw[da] (p48.west) -- (evading.east);
\draw[da] (bax2.west) -- (evading.east);
\coordinate (mj) at (672,218.5);
\draw[ln] (mitf) -- (mj);
\draw[da] (mj) -- (chemo.west);
\coordinate (tj) at (683,261.5);
\draw[ln] (dna3) -- (telo);
\draw[ar] (htr.north east) -- (tj);
\draw[da] (tj) -- (immort.west);
\draw[inh] (p21b.west) -- (cdk46.north east);
\draw[inh] (p16) -- (cdk46.north west);
\draw[inh] (p15.west) -- (ccnd.east);
\draw[ar] (cdk46.west) -- (rb.east);
\draw[ar] (cdk2.north west) -- (rb.south east);
\draw[ln] (rb) -- (e2f);
\draw[ar] (e2f.south) |- (prolif.east);
\draw[ar] (miz1) -- (p15);
\draw[inh] (cmyc4.west) -- (miz1.east);
\draw[ar] (max.south west) -- (cks1.north east);
\draw[ar] (cks1.south west) -- (scf.north east);
\draw[ar] (p27k.south) -- (scf.north west);
% bottom right
\coordinate (lj) at (440,432);
\draw[ar] (lig) -- (rxr1.south);
\draw[ar] (lig) -- (pparg.south);
\draw[ln, rounded corners=4pt] (rxr1.north) -- (429,437) -- (lj);
\draw[ln, rounded corners=4pt] (pparg.north) -- (452,437) -- (lj);
\draw[da] (lj) -- ([xshift=-16pt]prolif.south);
\draw[inh] (pppp) -- (rxr1);
\draw[ar] (retac) -- (rxr2.south);
\coordinate (rart2) at (476,401);
\draw[ar] (rara.north) -- (rart2);
\draw[ar] (e2c) -- (e2b);
\draw[ln] (e2b) -- (er2);
\draw[ar] (er2) -- (e2a);
\draw[ar] (e2a) -- (ap1);
\draw[ar] (er1.north east) -- (cmyc5.west);
\draw[ar] (bcat4.north) -- (ppard.south);
\draw[ln] (tcf.south east) -- (bcat4.north west);
\draw[da] (ccnd1e.north west) -- (prolif.south east);
\draw[ar] (plzf) -- (cyca1);
\coordinate (rarA) at (617,425);
\coordinate (rarB) at (617,405);
\draw[ln] (plzf.north) -- (rarA);
\draw[ln] (pml.north) -- (rarA);
\draw[ar] (rarA) -- (rarB);
\coordinate (pu1t1) at (634,402);
\coordinate (pu1t2) at (657,414);
\coordinate (cet1) at (684,401);
\coordinate (cet2) at (709,401);
\coordinate (amt1) at (726,401);
\coordinate (amt2) at (744,401);
\draw[ar] (pu1a.north) -- (pu1t1);
\draw[ar] (pu1b.north) -- (pu1t2);
\draw[ar] (cebpa1.north) -- (cet1);
\draw[ar] (cebpa2.north) -- (cet2);
\draw[ar] (aml1.north) -- (amt2);
\draw[ar, rounded corners=3pt] (aml1eto.east) -- (726,455) -- (amt1);
\draw[inh] (aml1eto.north west) -- (pu1a.south east);
\draw[inh] (aml1eto.north east) -- (cebpa1.south west);
\draw[inh] (pml.north east) -- (pu1a.south west);
\draw[da] (gmcsfr.north) -- ([xshift=-12pt]block.south);
\draw[da] (rart.north) -- ([xshift=-20pt]block.south);
\draw[ar] (gcsfr2.north) -- ([xshift=-3pt]block.south);
\draw[ar] (e2f2.north west) -- ([xshift=3pt]block.south);
\draw[ar] (mcsfr2.north) -- ([xshift=12pt]block.south);
% dashed links to outcomes
\draw[da] (survivin.east) -- ([yshift=-5pt]evading.west);
\draw[da] (bclxl1.east) -- ([yshift=-3pt]evading.west);
\draw[da] (ciaps.east) -- ([yshift=-2pt]evading.west);
\draw[da] (traps.east) -- ([yshift=-1pt]evading.west);
\draw[da] (bcl2a.south east) -- (evading.west);
\draw[da] (casp9b.east) -- ([yshift=1pt]evading.west);
\draw[da] (bclxl2.east) -- ([yshift=2pt]evading.west);
\draw[da] (fkhr.east) -- ([yshift=3pt]evading.west);
\draw[da] (p53a.east) -- ([yshift=4pt]evading.west);
\draw[da] (bclxl3.east) -- ([yshift=5pt]evading.west);
\draw[da] (ho1.south west) -- ([xshift=-8pt]evading.north);
\draw[da] (cmyc1.east) -- ([yshift=-6pt]prolif.west);
\draw[da] (ccnd1a.east) -- ([yshift=-5pt]prolif.west);
\draw[da] (ccnd1b.east) -- ([yshift=-4pt]prolif.west);
\draw[da] (s6k.east) -- ([yshift=-3pt]prolif.west);
\draw[da] (p27a.east) -- ([yshift=0pt]prolif.west);
\draw[da] (p21a.east) -- ([yshift=1pt]prolif.west);
\draw[da] (ccnd1c.east) -- ([yshift=3pt]prolif.west);
\draw[da] (cjun.east) -- ([yshift=4pt]prolif.west);
\draw[da] (ccnd1d.north east) -- ([yshift=6pt]prolif.west);
\draw[da] (cmyc3.east) -- ([xshift=-20pt]prolif.south);
\draw[da] (psa.south east) -- ([xshift=-18pt]prolif.north);
\draw[da] (wnt2.south) -- ([xshift=-12pt]prolif.north);
\draw[da] (hes.south) -- ([xshift=-6pt]prolif.north);
\draw[da] (ho1.south) -- ([xshift=8pt]prolif.north);
\draw[da] (cox2.east) -- ([yshift=3pt]angio.west);
\draw[da] (tcflef.east) -- ([yshift=-3pt]angio.west);
\draw[da] (vegf1.east) -- ([yshift=5pt]angio.west);
\draw[da] (vegf2.north east) -- ([xshift=-10pt]angio.south);
\draw[da] (bmp.south) -- ([yshift=-6pt]angio.west);
\end{tikzpicture}
\end{document}
